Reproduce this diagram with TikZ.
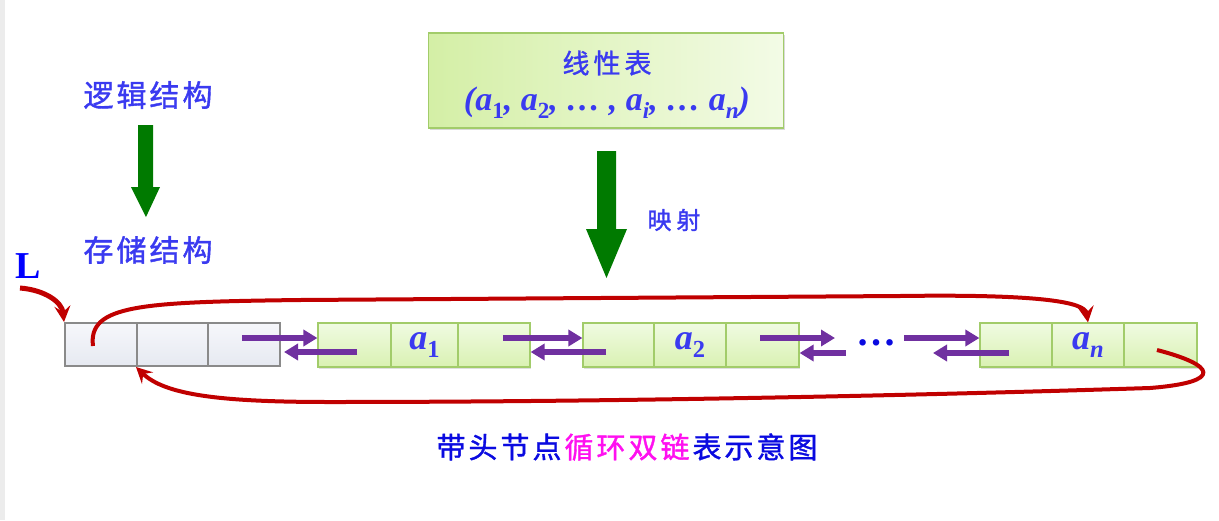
\documentclass[tikz,border=0pt]{standalone}
\usepackage{fontspec}
\usepackage{graphicx}
\setmainfont{Liberation Serif}
\newfontfamily\cjk[FakeBold=1.3]{Noto Sans CJK SC}
\usetikzlibrary{arrows.meta,shadows}
\definecolor{txtblue}{HTML}{3A3AF0}
\definecolor{capblue}{HTML}{0A0AE0}
\definecolor{capmag}{HTML}{FF10F0}
\definecolor{redc}{HTML}{C00000}
\definecolor{purp}{HTML}{7030A0}
\definecolor{grarrow}{HTML}{007A00}
\definecolor{cellborder}{HTML}{A2CC6A}
\definecolor{celltop}{HTML}{F0FBE2}
\definecolor{cellbot}{HTML}{D9F1B2}
\definecolor{boxl}{HTML}{D4EFA6}
\definecolor{boxr}{HTML}{F3FBE6}
\definecolor{htop}{HTML}{F6F7FB}
\definecolor{hbot}{HTML}{E6E9F1}
\definecolor{hborder}{HTML}{8A8A8A}
\newcommand\sbs[1]{\raisebox{-0.24em}{\scalebox{0.68}{#1}}}
\newcommand\ksp{\kern3pt}
\tikzset{
  x=1pt,y=-1pt,
  gcell/.style={draw=cellborder,line width=1.2pt,top color=celltop,bottom color=cellbot,
    minimum height=44pt,inner sep=0pt,
    drop shadow={shadow xshift=1pt,shadow yshift=-1.5pt,opacity=0.25}},
  hcell/.style={draw=hborder,line width=2pt,top color=htop,bottom color=hbot,
    minimum height=43pt,inner sep=0pt},
  cjklabel/.style={font=\cjk\fontsize{30}{32}\selectfont,text=txtblue,inner sep=0pt},
  elab/.style={font=\fontsize{36}{38}\selectfont\bfseries\itshape,text=txtblue,inner sep=0pt},
  parr/.style={draw=purp,line width=6pt,-{Triangle[length=14pt,width=16pt]}},
  rarr/.style={draw=redc,line width=4pt,-{Stealth[length=16pt,width=16pt,inset=6pt]}}
}
\begin{document}
\begin{tikzpicture}
\useasboundingbox (0,0) rectangle (1219,520);
\fill[gray!15] (0,0) rectangle (5,520);

% labels left
\node[cjklabel] (logic) at (148,95) {逻\ksp 辑\ksp 结\ksp 构};
\node[cjklabel] (store) at (148,250) {存\ksp 储\ksp 结\ksp 构};
\fill[grarrow] (138,125) -- (153,125) -- (153,187) -- (160,187) -- (146,217) -- (131,187) -- (138,187) -- cycle;

% top box
\node[draw=cellborder,line width=1.3pt,left color=boxl,right color=boxr,
  minimum width=355pt,minimum height=95pt,inner sep=0pt,
  drop shadow={shadow xshift=1.5pt,shadow yshift=-2pt,opacity=0.3}] (lin) at (606,80.5) {};
\node[cjklabel,font=\cjk\fontsize{27}{29}\selectfont] (lintitle) at (607,63) {线\kern4pt 性\kern4pt 表};
\node[elab,font=\fontsize{34}{36}\selectfont\bfseries\itshape] (linseq) at (607,103)
  {(a\sbs{\upshape 1}, a\sbs{\upshape 2}, \dots\ , a\sbs{i}, \dots\ a\sbs{n})};

% big arrow
\fill[grarrow] (597,151) -- (616,151) -- (616,229) -- (627,229) -- (606.5,278) -- (586,229) -- (597,229) -- cycle;
\node[cjklabel,font=\cjk\fontsize{24}{26}\selectfont] (map) at (674,220) {映\kern5pt 射};

% L
\node[font=\fontsize{38}{40}\selectfont\bfseries,text=blue,inner sep=0pt] (L) at (28,266) {L};

% header cells
\node[hcell,minimum width=72pt] (h1) at (101,344.5) {};
\node[hcell,minimum width=71pt] (h2) at (172.5,344.5) {};
\node[hcell,minimum width=72pt] (h3) at (244,344.5) {};

% node 1
\node[gcell,minimum width=73pt] (n1a) at (354.5,345) {};
\node[gcell,minimum width=67pt] (n1b) at (424.5,345) {};
\node[gcell,minimum width=72pt] (n1c) at (494,345) {};
% node 2
\node[gcell,minimum width=71pt] (n2a) at (618.5,345) {};
\node[gcell,minimum width=72pt] (n2b) at (690,345) {};
\node[gcell,minimum width=73pt] (n2c) at (762.5,345) {};
% node n
\node[gcell,minimum width=72pt] (nna) at (1016,345) {};
\node[gcell,minimum width=72pt] (nnb) at (1088,345) {};
\node[gcell,minimum width=73pt] (nnc) at (1160.5,345) {};

\node[elab] at (n1b) {a\sbs{\upshape 1}};
\node[elab] at (n2b) {a\sbs{\upshape 2}};
\node[elab] at (nnb) {a\sbs{n}};

\node[font=\fontsize{40}{42}\selectfont\bfseries,text=capblue,inner sep=0pt] (dots) at (876,343) {\dots};

% purple arrows
\coordinate (u1) at (242,338); \coordinate (l1) at (357,352);
\coordinate (u2) at (503,338); \coordinate (l2) at (606,352);
\coordinate (u3) at (760,338); \coordinate (l3) at (846,353);
\coordinate (u4) at (904,338); \coordinate (l4) at (1009,353);
\draw[parr] (u1) -- (u1 -| n1a.west);
\draw[parr] (l1) -- ([xshift=3pt]l1 -| h3.east);
\draw[parr] (u2) -- (u2 -| n2a.west);
\draw[parr] (l2) -- (l2 -| n1c.east);
\draw[parr] (u3) -- (835,338);
\draw[parr] (l3) -- (l3 -| n2c.east);
\draw[parr] (u4) -- (u4 -| nna.west);
\draw[parr] (l4) -- (933,353);

% red curves
\coordinate (Ls) at (20,288);
\draw[rarr,line width=5pt] (Ls) .. controls (45,290) and (62,302) .. (h1.north west);
\coordinate (t0) at (93,346);
\draw[rarr] (t0) .. controls (88,305) and (140,302) .. (300,300)
  -- (900,296) .. controls (1040,294) and (1085,302) .. (nnb.north);
\coordinate (b0) at (1157,350);
\draw[rarr] (b0) .. controls (1215,365) and (1225,382) .. (1150,388)
  .. controls (900,396) and (600,402) .. (330,402)
  .. controls (220,402) and (165,395) .. (h2.south west);

% caption
\node[font=\cjk\fontsize{29}{31}\selectfont,inner sep=0pt] (cap) at (627,447)
  {\color{capblue}带\ksp 头\ksp 节\ksp 点\ksp\color{capmag}循\ksp 环\ksp 双\ksp 链\ksp\color{capblue}表\ksp 示\ksp 意\ksp 图};
\end{tikzpicture}
\end{document}
